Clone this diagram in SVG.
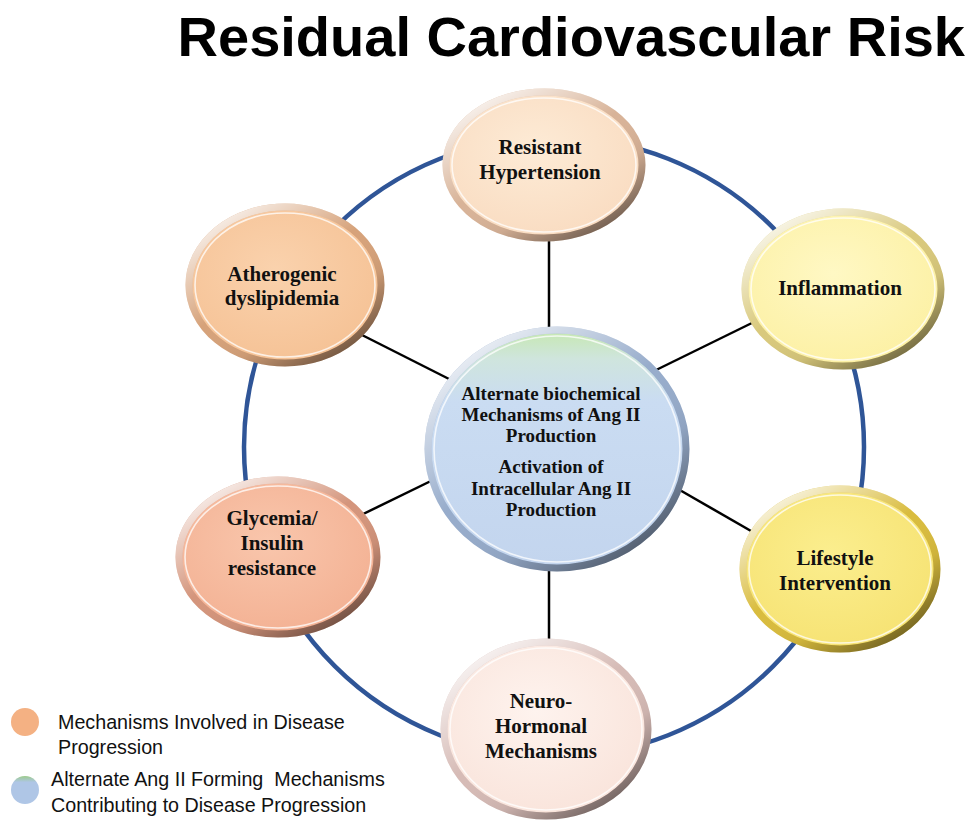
<svg xmlns="http://www.w3.org/2000/svg" width="969" height="821" viewBox="0 0 969 821">
<style>
.title{font-family:"Liberation Sans",Arial,sans-serif;font-weight:bold;font-size:56px;fill:#000}
.lbl{font-family:"Liberation Serif","Times New Roman",serif;font-weight:bold;font-size:21px;fill:#111;text-anchor:middle}
.clbl{font-family:"Liberation Serif","Times New Roman",serif;font-weight:bold;font-size:19px;fill:#111;text-anchor:middle}
.leg{font-family:"Liberation Sans",Arial,sans-serif;font-size:19.7px;fill:#111}
.rim{fill:none;stroke:url(#rimShade);stroke-width:7}
.inner{fill:none;stroke:#fff;stroke-opacity:0.75;stroke-width:1.6}
.conn{stroke:#000;stroke-width:2.5}
</style>
<defs>
<linearGradient id="rimShade" x1="0.15" y1="0.05" x2="0.85" y2="0.95">
<stop offset="0" stop-color="#fff" stop-opacity="0.85"/>
<stop offset="0.45" stop-color="#fff" stop-opacity="0"/>
<stop offset="0.7" stop-color="#000" stop-opacity="0.05"/>
<stop offset="1" stop-color="#000" stop-opacity="0.5"/>
</linearGradient>
<radialGradient id="gTop" cx="0.45" cy="0.4" r="0.65"><stop offset="0" stop-color="#FDEBD6"/><stop offset="1" stop-color="#F9DBC0"/></radialGradient>
<radialGradient id="gInf" cx="0.45" cy="0.4" r="0.65"><stop offset="0" stop-color="#FFF8C4"/><stop offset="1" stop-color="#FCF0A2"/></radialGradient>
<radialGradient id="gLife" cx="0.45" cy="0.4" r="0.65"><stop offset="0" stop-color="#FBEE8E"/><stop offset="1" stop-color="#F6E272"/></radialGradient>
<radialGradient id="gAth" cx="0.45" cy="0.4" r="0.65"><stop offset="0" stop-color="#FAD2AD"/><stop offset="1" stop-color="#F5C194"/></radialGradient>
<radialGradient id="gGly" cx="0.45" cy="0.4" r="0.65"><stop offset="0" stop-color="#F9C6AC"/><stop offset="1" stop-color="#F3B092"/></radialGradient>
<radialGradient id="gNeu" cx="0.45" cy="0.4" r="0.65"><stop offset="0" stop-color="#FEF3EE"/><stop offset="1" stop-color="#F9E3DA"/></radialGradient>
<linearGradient id="gCen" x1="0" y1="0" x2="0" y2="1">
<stop offset="0" stop-color="#C6E8B0"/><stop offset="0.12" stop-color="#CFE5DD"/><stop offset="0.3" stop-color="#CADCF2"/><stop offset="1" stop-color="#C3D5EE"/>
</linearGradient>
<linearGradient id="gLeg2" x1="0" y1="0" x2="0" y2="1">
<stop offset="0" stop-color="#9CCB8A"/><stop offset="0.22" stop-color="#AFC6E6"/><stop offset="1" stop-color="#AFC6E6"/>
</linearGradient>
</defs>

<text class="title" x="965" y="56" text-anchor="end">Residual Cardiovascular Risk</text>

<g id="ring">
<circle cx="554" cy="447" r="310" fill="none" stroke="#2F5597" stroke-width="4.5"/>
</g>

<g id="connectors">
<line class="conn" x1="549" y1="232" x2="549" y2="335"/>
<line class="conn" x1="549" y1="565" x2="549" y2="645"/>
<line class="conn" x1="360" y1="334" x2="455" y2="382"/>
<line class="conn" x1="650" y1="373" x2="758" y2="320"/>
<line class="conn" x1="355" y1="518" x2="435" y2="479"/>
<line class="conn" x1="678" y1="489" x2="758" y2="535"/>
</g>

<g id="node-top">
<ellipse cx="544" cy="165" rx="98" ry="73" fill="url(#gTop)" stroke="#D8B398" stroke-width="7"/>
<ellipse class="rim" cx="544" cy="165" rx="98" ry="73"/>
<ellipse class="inner" cx="544" cy="165" rx="92" ry="67"/>
<text class="lbl" x="540" y="154">Resistant</text>
<text class="lbl" x="540" y="179">Hypertension</text>
</g>

<g id="node-inflammation">
<ellipse cx="843" cy="289" rx="98" ry="77" fill="url(#gInf)" stroke="#D9C97C" stroke-width="7"/>
<ellipse class="rim" cx="843" cy="289" rx="98" ry="77"/>
<ellipse class="inner" cx="843" cy="289" rx="92" ry="71"/>
<text class="lbl" x="840" y="295">Inflammation</text>
</g>

<g id="node-lifestyle">
<ellipse cx="840" cy="569" rx="97" ry="80" fill="url(#gLife)" stroke="#D9BC3E" stroke-width="7"/>
<ellipse class="rim" cx="840" cy="569" rx="97" ry="80"/>
<ellipse class="inner" cx="840" cy="569" rx="91" ry="74"/>
<text class="lbl" x="835" y="565">Lifestyle</text>
<text class="lbl" x="835" y="590">Intervention</text>
</g>

<g id="node-atherogenic">
<ellipse cx="285" cy="285" rx="96" ry="78" fill="url(#gAth)" stroke="#D6A27A" stroke-width="7"/>
<ellipse class="rim" cx="285" cy="285" rx="96" ry="78"/>
<ellipse class="inner" cx="285" cy="285" rx="90" ry="72"/>
<text class="lbl" x="282" y="281">Atherogenic</text>
<text class="lbl" x="282" y="305">dyslipidemia</text>
</g>

<g id="node-glycemia">
<ellipse cx="278" cy="557" rx="99" ry="77" fill="url(#gGly)" stroke="#D4957C" stroke-width="7"/>
<ellipse class="rim" cx="278" cy="557" rx="99" ry="77"/>
<ellipse class="inner" cx="278" cy="557" rx="93" ry="71"/>
<text class="lbl" x="272" y="525">Glycemia/</text>
<text class="lbl" x="272" y="550">Insulin</text>
<text class="lbl" x="272" y="575">resistance</text>
</g>

<g id="node-neuro">
<ellipse cx="546" cy="729" rx="102" ry="87" fill="url(#gNeu)" stroke="#D6BBB6" stroke-width="7"/>
<ellipse class="rim" cx="546" cy="729" rx="102" ry="87"/>
<ellipse class="inner" cx="546" cy="729" rx="96" ry="81"/>
<text class="lbl" x="541" y="708">Neuro-</text>
<text class="lbl" x="541" y="733">Hormonal</text>
<text class="lbl" x="541" y="758">Mechanisms</text>
</g>

<g id="node-center">
<ellipse cx="557" cy="449" rx="129" ry="119" fill="url(#gCen)" stroke="#97ACCB" stroke-width="7"/>
<ellipse class="rim" cx="557" cy="449" rx="129" ry="119"/>
<ellipse class="inner" cx="557" cy="449" rx="123" ry="113"/>
<text class="clbl" x="551" y="400">Alternate biochemical</text>
<text class="clbl" x="551" y="421">Mechanisms of Ang II</text>
<text class="clbl" x="551" y="442">Production</text>
<text class="clbl" x="551" y="473">Activation of</text>
<text class="clbl" x="551" y="495">Intracellular Ang II</text>
<text class="clbl" x="551" y="516">Production</text>
</g>

<g id="legend">
<circle cx="25" cy="722" r="14" fill="#F4B183"/>
<text class="leg" x="58" y="729">Mechanisms Involved in Disease</text>
<text class="leg" x="58" y="754">Progression</text>
<circle cx="25" cy="790" r="14" fill="url(#gLeg2)"/>
<text class="leg" x="51" y="786" xml:space="preserve">Alternate Ang II Forming  Mechanisms</text>
<text class="leg" x="51" y="812">Contributing to Disease Progression</text>
</g>
</svg>
